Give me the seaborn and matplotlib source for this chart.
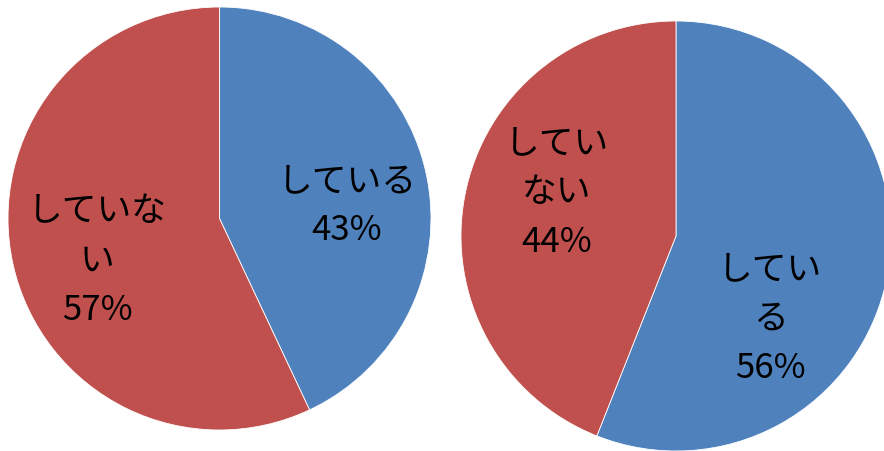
import matplotlib
matplotlib.use("Agg")
import matplotlib.pyplot as plt
import seaborn as sns

sns.set_theme(style="white")
plt.rcParams["font.family"] = ["Noto Sans CJK JP", "DejaVu Sans"]

# Survey results: two pies, each split into "している" / "していない"
left_labels = ["している", "していない"]
left_values = [43, 57]
right_labels = ["している", "していない"]
right_values = [56, 44]

blue = "#4F81BD"
red = "#C0504D"

W, H = 884, 451
fig = plt.figure(figsize=(W / 100, H / 100), dpi=100)
ax = fig.add_axes([0, 0, 1, 1])


def draw_pie(values, center, radius):
    ax.pie(values, colors=[blue, red], startangle=90, counterclock=False,
           center=center, radius=radius,
           wedgeprops=dict(edgecolor="white", linewidth=0.6))


# pixel-space layout (y measured upward from the bottom edge)
draw_pie(left_values, (219.5, H - 218.5), 211.5)
draw_pie(right_values, (676, H - 236), 215)

ax.set_xlim(0, W)
ax.set_ylim(0, H)
ax.set_aspect("equal")
ax.axis("off")

text_kw = dict(ha="center", va="center", fontsize=25, color="black",
               linespacing=1.52)
ax.text(347, H - 206, f"している\n{left_values[0]}%", **text_kw)
ax.text(97, H - 261, f"していな\nい\n{left_values[1]}%", **text_kw)
ax.text(557, H - 193, f"してい\nない\n{right_values[1]}%", **text_kw)
ax.text(770, H - 319, f"してい\nる\n{right_values[0]}%", **text_kw)

fig.savefig("out.png", dpi=100)
